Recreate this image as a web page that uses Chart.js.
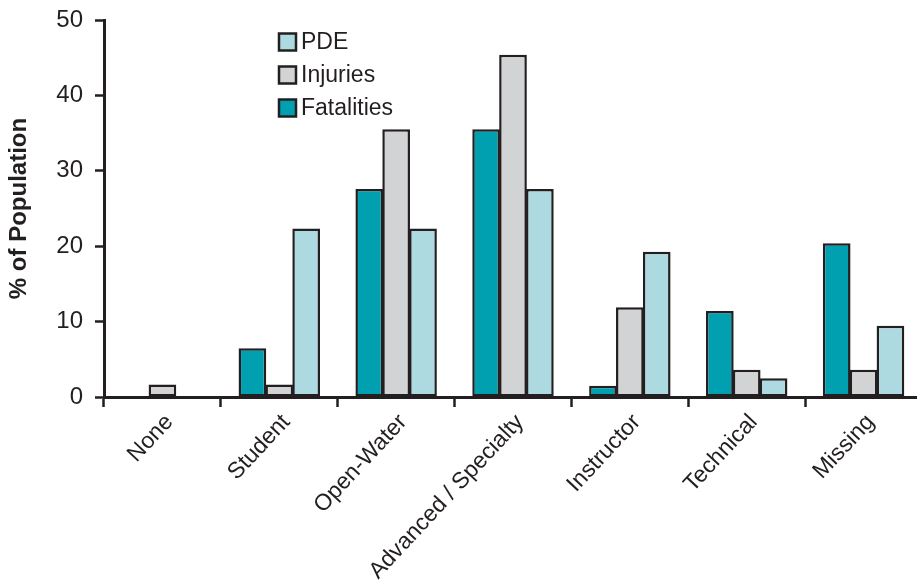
<!DOCTYPE html>
<html>
<head>
<meta charset="utf-8">
<script src="https://cdn.jsdelivr.net/npm/chart.js@4/dist/chart.umd.min.js"></script>
<style>
  html, body { margin: 0; padding: 0; background: #ffffff; overflow: hidden; }
  #wrap { position: relative; width: 922px; height: 583px; }
</style>
</head>
<body>
<div id="wrap"><canvas id="c"></canvas></div>
<script>
const categories = ["None", "Student", "Open-Water", "Advanced / Specialty", "Instructor", "Technical", "Missing"];
const fatalities = [0, 6.45, 27.6, 35.5, 1.5, 11.4, 20.4];
const injuries   = [1.65, 1.65, 35.5, 45.4, 11.9, 3.6, 3.6];
const pde        = [0, 22.35, 22.35, 27.6, 19.25, 2.5, 9.45];
const yTicks     = [0, 10, 20, 30, 40, 50];

const INK = '#231f20';
const FONT = '"Liberation Sans", Arial, Helvetica, sans-serif';

const stackedLegend = {
  id: 'stackedLegend',
  afterDraw(chart) {
    const ctx = chart.ctx;
    const ds = chart.data.datasets.slice().reverse();
    const x0 = 279, y0 = 42, step = 33, box = 17;
    ctx.save();
    ctx.font = '23px ' + FONT;
    ctx.textBaseline = 'middle';
    ctx.textAlign = 'left';
    ds.forEach((d, i) => {
      const cy = y0 + i * step;
      ctx.fillStyle = d.backgroundColor;
      ctx.fillRect(x0, cy - box / 2, box, box);
      ctx.lineWidth = 2.5;
      ctx.strokeStyle = INK;
      ctx.strokeRect(x0, cy - box / 2, box, box);
      ctx.fillStyle = INK;
      ctx.fillText(d.label, x0 + 22, cy + 1);
    });
    ctx.restore();
  }
};

new Chart(document.getElementById('c'), {
  type: 'bar',
  data: {
    labels: categories,
    datasets: [
      { label: 'Fatalities', data: fatalities, backgroundColor: '#00a0b0' },
      { label: 'Injuries', data: injuries, backgroundColor: '#d1d3d4' },
      { label: 'PDE', data: pde, backgroundColor: '#acdae0' }
    ]
  },
  options: {
    responsive: true,
    maintainAspectRatio: false,
    animation: false,
    layout: { padding: { top: 20, left: 0, right: 0, bottom: 0 } },
    datasets: {
      bar: {
        borderColor: INK,
        borderWidth: 2.5,
        borderSkipped: false,
        categoryPercentage: 0.69,
        barPercentage: 1.03
      }
    },
    plugins: {
      legend: { display: false },
      tooltip: { enabled: false }
    },
    scales: {
      x: {
        grid: {
          display: true,
          drawOnChartArea: false,
          drawTicks: true,
          tickLength: 10,
          tickWidth: 2.5,
          tickColor: INK,
          offset: true
        },
        border: { display: true, color: INK, width: 3 },
        ticks: {
          color: INK,
          font: { family: FONT, size: 23 },
          minRotation: 47,
          maxRotation: 47,
          padding: 2,
          labelOffset: 7
        },
        afterFit(scale) { scale.height = 186; scale.paddingLeft = 0; scale.paddingRight = 0; }
      },
      y: {
        min: 0,
        max: 50,
        afterBuildTicks(scale) { scale.ticks = yTicks.map(v => ({ value: v })); },
        grid: {
          display: true,
          drawOnChartArea: false,
          drawTicks: true,
          tickLength: 9,
          tickWidth: 2.5,
          tickColor: INK
        },
        border: { display: true, color: INK, width: 3 },
        ticks: {
          color: INK,
          font: { family: FONT, size: 24 },
          padding: 12
        },
        title: {
          display: true,
          text: '% of Population',
          color: INK,
          font: { family: FONT, size: 24, weight: 'bold' },
          padding: { top: 5, bottom: 0 }
        },
        afterFit(scale) { scale.width = 104; scale.paddingTop = 0; scale.paddingBottom = 0; }
      }
    }
  },
  plugins: [stackedLegend]
});
</script>
</body>
</html>
